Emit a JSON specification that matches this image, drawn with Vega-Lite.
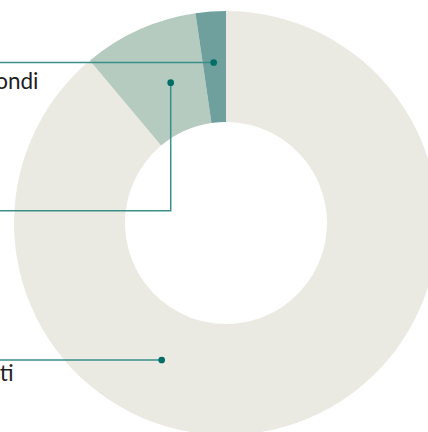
{
  "$schema": "https://vega.github.io/schema/vega-lite/v6.json",
  "autosize": {"type": "none"},
  "padding": 0,
  "width": 428,
  "height": 432,
  "background": "white",
  "config": {"view": {"stroke": null}},
  "datasets": {
    "slices": [
      {"category": "Depositi", "value": 88.9, "rank": 1},
      {"category": "Titoli", "value": 8.8, "rank": 2},
      {"category": "Fondi", "value": 2.3, "rank": 3}
    ],
    "leaders": [
      {"category": "Fondi", "step": 1, "x": -12.3, "y": 160.5},
      {"category": "Fondi", "step": 2, "x": -300, "y": 160.5},
      {"category": "Titoli", "step": 1, "x": -55.3, "y": 140.3},
      {"category": "Titoli", "step": 2, "x": -55.3, "y": 12.3},
      {"category": "Titoli", "step": 3, "x": -300, "y": 12.3},
      {"category": "Depositi", "step": 1, "x": -64.3, "y": -137},
      {"category": "Depositi", "step": 2, "x": -300, "y": -137}
    ],
    "dots": [
      {"category": "Fondi", "x": -12.3, "y": 160.5},
      {"category": "Titoli", "x": -55.3, "y": 140.3},
      {"category": "Depositi", "x": -64.3, "y": -137}
    ],
    "labels": [
      {"category": "Fondi", "x": -187.5, "y": 133.8},
      {"category": "Titoli", "x": -240, "y": -13},
      {"category": "Depositi", "x": -212.5, "y": -158}
    ]
  },
  "layer": [
    {
      "data": {"name": "slices"},
      "mark": {"type": "arc", "radius": 212, "radius2": 101, "stroke": null},
      "encoding": {
        "x": {"datum": 0, "type": "quantitative", "scale": {"domain": [-226, 202], "nice": false, "zero": false}, "axis": null},
        "y": {"datum": 0, "type": "quantitative", "scale": {"domain": [-209, 223], "nice": false, "zero": false}, "axis": null},
        "theta": {"field": "value", "type": "quantitative", "stack": true},
        "order": {"field": "rank", "type": "quantitative"},
        "color": {
          "field": "category",
          "type": "nominal",
          "scale": {"domain": ["Depositi", "Titoli", "Fondi"], "range": ["#EBEAE2", "#B6CBBF", "#6FA09E"]},
          "legend": null
        }
      }
    },
    {
      "data": {"name": "leaders"},
      "mark": {"type": "line", "color": "#3A8F8B", "strokeWidth": 1.5},
      "encoding": {
        "x": {"field": "x", "type": "quantitative", "axis": null},
        "y": {"field": "y", "type": "quantitative", "axis": null},
        "detail": {"field": "category"},
        "order": {"field": "step", "type": "quantitative"}
      }
    },
    {
      "data": {"name": "dots"},
      "mark": {"type": "point", "filled": true, "color": "#006E67", "opacity": 1, "size": 45},
      "encoding": {
        "x": {"field": "x", "type": "quantitative", "axis": null},
        "y": {"field": "y", "type": "quantitative", "axis": null}
      }
    },
    {
      "data": {"name": "labels"},
      "mark": {"type": "text", "align": "right", "baseline": "alphabetic", "fontSize": 22.5, "font": "Lato", "color": "#1E1E1E"},
      "encoding": {
        "x": {"field": "x", "type": "quantitative", "axis": null},
        "y": {"field": "y", "type": "quantitative", "axis": null},
        "text": {"field": "category"}
      }
    }
  ]
}
